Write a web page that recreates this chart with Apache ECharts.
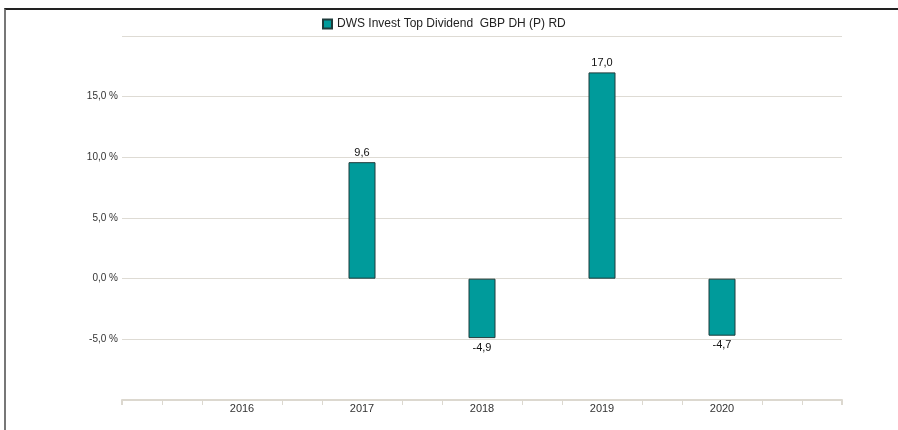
<!DOCTYPE html>
<html>
<head>
<meta charset="utf-8">
<script src="https://cdn.jsdelivr.net/npm/echarts@6/dist/echarts.min.js"></script>
<style>
html,body{margin:0;padding:0;background:#fff;}
#frame{position:absolute;left:4px;top:8px;width:894px;height:422px;border-top:2px solid #222;border-left:2px solid #777;box-sizing:border-box;pointer-events:none;z-index:2;}
#chart{position:absolute;left:0;top:0;width:898px;height:430px;}
</style>
</head>
<body>
<div id="chart"></div>
<div id="frame"></div>
<script>
const seriesName = 'DWS Invest Top Dividend  GBP DH (P) RD';
const years = [2016, 2017, 2018, 2019, 2020];
const values = [null, 9.6, -4.9, 17.0, -4.7];
const yTicks = [-5, 0, 5, 10, 15];

const fmt = v => v.toFixed(1).replace('.', ',');
const data = years.map((y, i) => ({
  value: [y, values[i]],
  label: { position: values[i] != null && values[i] < 0 ? 'bottom' : 'top' }
}));

const chart = echarts.init(document.getElementById('chart'), null, {renderer: 'canvas'});
chart.setOption({
  animation: false,
  textStyle: { fontFamily: 'Liberation Sans, Arial, sans-serif' },
  legend: {
    left: 317, top: 13,
    itemWidth: 9, itemHeight: 9, itemGap: 4,
    icon: 'rect',
    textStyle: { fontSize: 12, color: '#222', fontFamily: 'Liberation Sans, Arial, sans-serif' },
    data: [seriesName]
  },
  grid: { left: 122, right: 56, top: 36, bottom: 30, containLabel: false },
  xAxis: {
    type: 'value', min: 2015, max: 2021, interval: 1,
    axisLine: { show: true, onZero: false, lineStyle: { color: '#dcd8cf', width: 2 } },
    axisTick: { show: true, customValues: [2015, 2021], length: 5, lineStyle: { color: '#dcd8cf', width: 2 } },
    minorTick: { show: true, splitNumber: 3, length: 5, lineStyle: { color: '#dcd8cf', width: 1 } },
    splitLine: { show: false },
    axisLabel: {
      customValues: years,
      formatter: v => String(v),
      fontSize: 11, color: '#333', margin: 3
    }
  },
  yAxis: {
    type: 'value', min: -10, max: 20, interval: 5,
    axisLine: { show: false }, axisTick: { show: false },
    splitLine: { lineStyle: { color: '#dedbd4', width: 1 } },
    axisLabel: {
      customValues: yTicks,
      formatter: v => fmt(v) + ' %',
      fontSize: 10, color: '#333', margin: 4
    }
  },
  series: [{
    name: seriesName,
    type: 'bar',
    barWidth: 27,
    data: data,
    itemStyle: { color: '#009b9b', borderColor: '#1f3b3b', borderWidth: 1 },
    label: {
      show: true, fontSize: 11, color: '#111', distance: 4,
      formatter: p => p.value[1] == null ? '' : fmt(p.value[1])
    }
  }]
});
</script>
</body>
</html>
